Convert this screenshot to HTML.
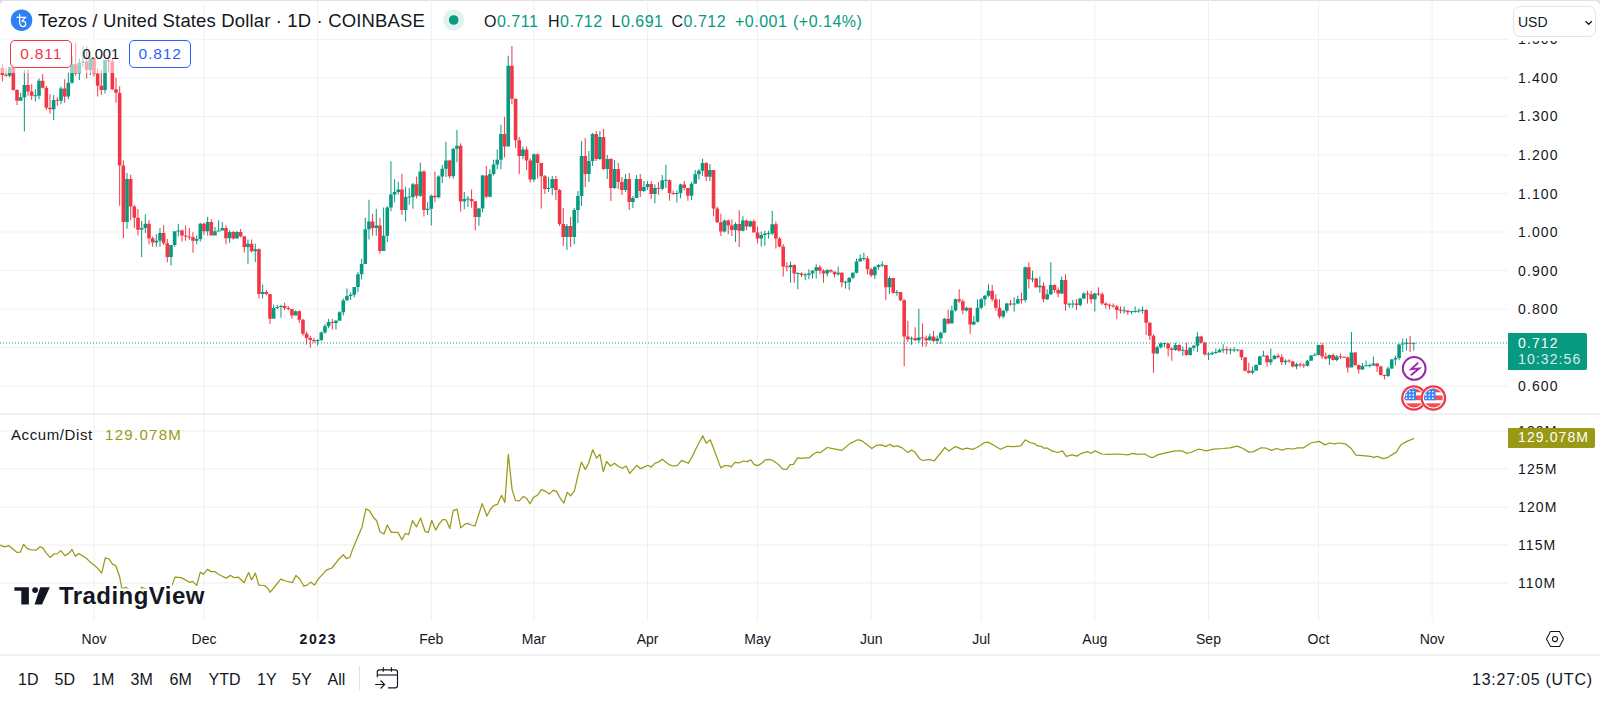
<!DOCTYPE html>
<html><head><meta charset="utf-8"><style>
*{margin:0;padding:0;box-sizing:border-box}
html,body{width:1600px;height:701px;overflow:hidden;background:#fff;font-family:"Liberation Sans",sans-serif;color:#131722}
.abs{position:absolute}
.pl{position:absolute;left:1518px;font-size:14px;line-height:18px;letter-spacing:1.1px;color:#131722;white-space:nowrap}
.tl{position:absolute;top:630px;width:80px;text-align:center;font-size:14px;line-height:18px;color:#131722}
.tl.b{font-weight:bold;letter-spacing:1.6px;text-indent:1.6px}
.hdr{left:38px;top:9.5px;font-size:18.5px;line-height:22px;letter-spacing:0.15px;white-space:nowrap}
.ohlc{top:12.5px;font-size:16px;line-height:18px;letter-spacing:0.5px;white-space:nowrap;color:#131722}
.g{color:#089981}
.btn{top:40px;width:61.5px;height:28px;border:1px solid;border-radius:5px;background:#fff;font-size:15.5px;line-height:26px;letter-spacing:0.9px;text-indent:0.9px;text-align:center}
.lgtxt{top:45.3px;font-size:14.8px;line-height:18px;letter-spacing:-0.1px;color:#131722}
.usd{left:1513px;top:6px;width:83px;height:31px;border:1px solid #e0e3eb;border-radius:7px;background:#fff;font-size:14px;line-height:31px;padding-left:4px;color:#131722}
.plabel{left:1508px;top:333px;width:78.5px;height:37px;background:#089981;border-radius:0 2px 2px 0;color:#fff;font-size:14px;line-height:16.5px;letter-spacing:1.1px;padding:1.5px 0 0 10px}
.adlabel{left:1508px;top:428px;width:87px;height:19.6px;background:#999915;border-radius:0 2px 2px 0;color:#fff;font-size:14px;line-height:19px;letter-spacing:1.1px;padding-left:10px}
.adleg{left:11px;top:425.5px;font-size:15px;line-height:18px;letter-spacing:0.6px;white-space:nowrap;color:#131722}
.tb{top:670px;font-size:16px;line-height:20px;color:#131722}
.utc{left:1472px;top:670px;font-size:16px;line-height:20px;letter-spacing:0.75px;color:#131722;white-space:nowrap}
.tvtext{position:absolute;left:59px;top:580px;font-size:24px;line-height:28px;font-weight:bold;color:#131722;white-space:nowrap;-webkit-text-stroke:0;text-shadow:0 0 2px #fff,0 0 2px #fff,0 0 3px #fff}
.topband{position:absolute;left:0;top:0;width:1600px;height:8px;background:#e1e2e9}
.frame{position:absolute;left:0;top:1.4px;width:1600px;height:700px;background:#fff;border-top-left-radius:5px;border-top-right-radius:5px}
</style></head><body>
<div class="topband"></div>
<div class="frame"></div>
<svg class="abs" style="left:0;top:0" width="1600" height="701" viewBox="0 0 1600 701">
<rect x="93.5" y="0" width="1" height="621" fill="#eff0f2"/><rect x="203.48000000000002" y="0" width="1" height="621" fill="#eff0f2"/><rect x="317.126" y="0" width="1" height="621" fill="#eff0f2"/><rect x="430.772" y="0" width="1" height="621" fill="#eff0f2"/><rect x="533.4200000000001" y="0" width="1" height="621" fill="#eff0f2"/><rect x="647.066" y="0" width="1" height="621" fill="#eff0f2"/><rect x="757.0459999999999" y="0" width="1" height="621" fill="#eff0f2"/><rect x="870.692" y="0" width="1" height="621" fill="#eff0f2"/><rect x="980.672" y="0" width="1" height="621" fill="#eff0f2"/><rect x="1094.318" y="0" width="1" height="621" fill="#eff0f2"/><rect x="1207.964" y="0" width="1" height="621" fill="#eff0f2"/><rect x="1317.944" y="0" width="1" height="621" fill="#eff0f2"/><rect x="1431.59" y="0" width="1" height="621" fill="#eff0f2"/><rect x="0" y="38.86999999999997" width="1508" height="1" fill="#eff0f2"/><rect x="0" y="77.4" width="1508" height="1" fill="#eff0f2"/><rect x="0" y="115.92999999999995" width="1508" height="1" fill="#eff0f2"/><rect x="0" y="154.45999999999998" width="1508" height="1" fill="#eff0f2"/><rect x="0" y="192.98999999999995" width="1508" height="1" fill="#eff0f2"/><rect x="0" y="231.51999999999998" width="1508" height="1" fill="#eff0f2"/><rect x="0" y="270.04999999999995" width="1508" height="1" fill="#eff0f2"/><rect x="0" y="308.5799999999999" width="1508" height="1" fill="#eff0f2"/><rect x="0" y="347.11" width="1508" height="1" fill="#eff0f2"/><rect x="0" y="385.64" width="1508" height="1" fill="#eff0f2"/><rect x="0" y="430.5" width="1508" height="1" fill="#eff0f2"/><rect x="0" y="468.5" width="1508" height="1" fill="#eff0f2"/><rect x="0" y="506.5" width="1508" height="1" fill="#eff0f2"/><rect x="0" y="544.5" width="1508" height="1" fill="#eff0f2"/><rect x="0" y="582.5" width="1508" height="1" fill="#eff0f2"/>
<rect x="0" y="413.5" width="1600" height="1" fill="#e0e3eb"/>
<rect x="0" y="654.5" width="1600" height="1" fill="#e0e3eb"/>
<g><path fill="#089981" d="M9.18 66.43h1v10.71h-1zM20.18 92.86h1v7.86h-1zM23.85 70.00h1v61.43h-1zM34.84 89.29h1v12.14h-1zM38.51 78.57h1v20.71h-1zM53.17 95.00h1v25.00h-1zM60.51 86.43h1v17.86h-1zM67.84 72.14h1v27.14h-1zM71.50 55.71h1v27.86h-1zM78.84 58.57h1v21.43h-1zM82.50 46.43h1v20.71h-1zM89.83 57.14h1v17.86h-1zM104.50 60.00h1v33.57h-1zM126.49 173.12h1v55.65h-1zM141.16 221.06h1v35.96h-1zM144.82 214.21h1v18.84h-1zM155.82 233.90h1v12.84h-1zM159.49 227.91h1v18.84h-1zM170.49 245.03h1v20.55h-1zM174.15 231.34h1v15.41h-1zM177.82 223.63h1v12.84h-1zM196.15 235.62h1v8.56h-1zM199.81 222.77h1v18.84h-1zM207.15 216.78h1v18.84h-1zM214.48 227.05h1v8.56h-1zM218.14 220.21h1v11.13h-1zM221.81 221.92h1v8.56h-1zM229.14 229.95h1v12.83h-1zM236.47 231.02h1v7.49h-1zM247.47 239.57h1v24.60h-1zM254.80 243.85h1v18.18h-1zM262.14 284.49h1v13.90h-1zM273.13 304.81h1v13.90h-1zM276.80 304.81h1v4.28h-1zM280.47 304.81h1v12.83h-1zM295.13 310.16h1v5.35h-1zM317.13 339.04h1v6.42h-1zM320.79 331.55h1v9.63h-1zM324.46 324.06h1v9.63h-1zM328.12 318.72h1v9.63h-1zM335.46 319.79h1v9.63h-1zM339.12 311.23h1v9.63h-1zM342.79 298.40h1v17.11h-1zM346.45 288.38h1v12.15h-1zM350.12 292.24h1v7.71h-1zM353.79 287.10h1v10.28h-1zM357.45 271.67h1v20.57h-1zM361.12 258.82h1v20.57h-1zM364.78 217.69h1v46.27h-1zM368.45 199.69h1v39.85h-1zM375.78 208.69h1v26.99h-1zM383.11 207.40h1v43.70h-1zM386.78 206.12h1v35.99h-1zM390.45 161.13h1v50.13h-1zM394.11 179.13h1v23.14h-1zM397.78 181.70h1v12.85h-1zM405.11 186.84h1v34.70h-1zM408.78 188.12h1v16.71h-1zM412.44 182.98h1v25.71h-1zM419.77 162.42h1v34.70h-1zM427.11 202.26h1v12.85h-1zM430.77 194.55h1v30.85h-1zM438.10 175.27h1v23.14h-1zM441.77 164.99h1v17.99h-1zM445.44 141.76h1v35.29h-1zM452.77 148.04h1v30.59h-1zM456.43 130.00h1v32.16h-1zM463.77 191.96h1v17.25h-1zM467.43 195.88h1v10.98h-1zM478.43 207.65h1v18.04h-1zM482.10 174.71h1v37.65h-1zM489.43 169.22h1v28.24h-1zM493.09 159.80h1v15.69h-1zM496.76 149.61h1v19.61h-1zM500.43 124.67h1v44.55h-1zM507.76 55.65h1v90.95h-1zM522.42 146.47h1v12.55h-1zM533.42 153.53h1v28.24h-1zM548.08 177.00h1v15.00h-1zM551.75 176.00h1v19.00h-1zM566.41 224.00h1v26.00h-1zM573.75 208.00h1v36.00h-1zM577.41 191.00h1v32.00h-1zM581.08 141.00h1v65.00h-1zM588.41 151.00h1v31.00h-1zM592.08 133.00h1v33.00h-1zM599.41 131.00h1v29.00h-1zM606.74 155.00h1v24.00h-1zM614.07 160.00h1v29.00h-1zM625.07 174.00h1v18.00h-1zM632.40 196.00h1v12.00h-1zM636.07 175.00h1v23.00h-1zM643.40 181.00h1v11.00h-1zM647.07 181.00h1v9.00h-1zM654.40 184.52h1v18.84h-1zM661.73 175.10h1v15.41h-1zM665.40 164.83h1v23.12h-1zM676.39 190.51h1v11.99h-1zM680.06 183.66h1v14.55h-1zM691.06 181.95h1v17.98h-1zM694.72 169.97h1v13.70h-1zM698.39 169.11h1v10.27h-1zM702.06 158.84h1v17.12h-1zM709.39 163.97h1v17.12h-1zM724.05 219.62h1v12.84h-1zM735.05 222.19h1v19.69h-1zM742.38 216.20h1v15.41h-1zM749.71 220.48h1v6.85h-1zM760.71 231.43h1v15.00h-1zM764.38 230.71h1v15.00h-1zM768.04 230.71h1v7.86h-1zM771.71 210.71h1v24.29h-1zM790.04 261.43h1v21.43h-1zM797.37 272.14h1v17.14h-1zM804.70 272.86h1v7.14h-1zM808.37 269.29h1v10.00h-1zM812.04 270.00h1v8.57h-1zM815.70 264.29h1v14.29h-1zM826.70 269.29h1v7.14h-1zM837.70 266.43h1v9.29h-1zM845.03 280.71h1v7.86h-1zM848.70 277.14h1v12.86h-1zM852.36 272.14h1v7.14h-1zM856.03 258.57h1v15.00h-1zM859.69 254.29h1v7.14h-1zM863.36 252.86h1v7.86h-1zM874.36 265.97h1v12.99h-1zM878.02 264.12h1v5.57h-1zM881.69 261.34h1v5.57h-1zM889.02 276.18h1v17.63h-1zM896.35 290.09h1v5.57h-1zM911.02 336.47h1v8.35h-1zM918.35 308.65h1v34.32h-1zM929.35 333.69h1v7.42h-1zM936.68 335.55h1v8.35h-1zM940.35 331.84h1v12.06h-1zM944.01 317.92h1v14.84h-1zM951.34 305.86h1v17.63h-1zM955.01 298.44h1v12.99h-1zM966.01 306.79h1v4.64h-1zM973.34 316.07h1v9.28h-1zM977.01 299.37h1v23.19h-1zM980.67 297.86h1v11.43h-1zM984.34 295.00h1v10.71h-1zM988.00 284.29h1v12.86h-1zM1002.67 310.00h1v8.57h-1zM1006.33 302.86h1v10.00h-1zM1013.67 297.14h1v14.29h-1zM1017.33 295.71h1v8.57h-1zM1024.66 266.43h1v35.71h-1zM1032.00 270.71h1v11.43h-1zM1039.33 276.43h1v16.43h-1zM1046.66 289.29h1v10.71h-1zM1050.33 262.14h1v32.86h-1zM1061.32 276.43h1v17.86h-1zM1068.66 302.86h1v5.00h-1zM1072.32 300.00h1v7.86h-1zM1079.65 297.86h1v8.57h-1zM1083.32 292.14h1v7.14h-1zM1094.32 292.86h1v18.57h-1zM1123.65 306.43h1v7.14h-1zM1130.98 310.71h1v3.57h-1zM1134.64 306.43h1v6.43h-1zM1138.31 308.57h1v4.29h-1zM1141.98 306.43h1v7.14h-1zM1156.64 345.71h1v8.57h-1zM1160.31 342.14h1v6.43h-1zM1163.97 342.86h1v4.29h-1zM1174.97 342.86h1v7.86h-1zM1182.30 346.43h1v9.29h-1zM1189.63 347.14h1v8.57h-1zM1193.30 345.00h1v5.71h-1zM1196.97 332.14h1v20.00h-1zM1207.96 352.14h1v7.86h-1zM1211.63 351.43h1v3.57h-1zM1215.30 348.57h1v5.71h-1zM1218.96 348.57h1v4.29h-1zM1222.63 344.29h1v8.57h-1zM1229.96 347.86h1v6.43h-1zM1233.63 347.14h1v5.00h-1zM1237.29 349.29h1v2.14h-1zM1251.96 366.43h1v7.86h-1zM1255.62 364.29h1v6.43h-1zM1259.29 355.71h1v9.29h-1zM1262.95 350.71h1v5.71h-1zM1270.29 348.57h1v16.43h-1zM1273.95 355.00h1v4.29h-1zM1284.95 359.29h1v5.71h-1zM1295.95 362.86h1v6.43h-1zM1306.95 360.00h1v6.43h-1zM1310.61 355.00h1v5.71h-1zM1314.28 353.00h1v2.50h-1zM1317.94 344.50h1v11.00h-1zM1328.94 354.50h1v10.50h-1zM1336.27 355.00h1v6.50h-1zM1350.94 332.00h1v35.50h-1zM1361.94 363.00h1v7.00h-1zM1365.60 360.50h1v6.00h-1zM1369.27 363.50h1v4.00h-1zM1372.93 356.50h1v9.50h-1zM1387.60 366.50h1v10.50h-1zM1391.26 359.00h1v10.00h-1zM1394.93 355.50h1v10.00h-1zM1398.60 343.50h1v16.50h-1zM1402.26 338.50h1v13.50h-1zM1405.93 338.50h1v12.00h-1zM1413.26 343.00h1v7.50h-1zM7.88 67.14h3.6v8.57h-3.6zM18.88 97.14h3.6v3.57h-3.6zM22.55 85.00h3.6v12.14h-3.6zM33.54 95.21h3.6v1.00h-3.6zM37.21 80.71h3.6v15.00h-3.6zM51.87 100.00h3.6v9.29h-3.6zM59.21 88.57h3.6v12.14h-3.6zM66.54 82.86h3.6v13.57h-3.6zM70.20 64.29h3.6v18.57h-3.6zM77.54 62.86h3.6v10.71h-3.6zM81.20 61.43h3.6v1.43h-3.6zM88.53 57.86h3.6v12.14h-3.6zM103.20 60.00h3.6v30.00h-3.6zM125.19 179.11h3.6v42.81h-3.6zM139.86 227.91h3.6v1.71h-3.6zM143.52 223.63h3.6v4.28h-3.6zM154.52 240.75h3.6v1.71h-3.6zM158.19 233.05h3.6v7.71h-3.6zM169.19 245.03h3.6v11.99h-3.6zM172.85 231.34h3.6v13.70h-3.6zM176.52 230.41h3.6v1.00h-3.6zM194.85 239.04h3.6v1.71h-3.6zM198.51 223.63h3.6v15.41h-3.6zM205.85 221.92h3.6v9.42h-3.6zM213.18 231.34h3.6v4.28h-3.6zM216.84 230.41h3.6v1.00h-3.6zM220.51 227.91h3.6v2.57h-3.6zM227.84 232.09h3.6v6.10h-3.6zM235.17 232.09h3.6v6.42h-3.6zM246.17 243.85h3.6v3.21h-3.6zM253.50 249.20h3.6v2.14h-3.6zM260.84 291.98h3.6v2.14h-3.6zM271.83 308.02h3.6v10.70h-3.6zM275.50 306.95h3.6v1.07h-3.6zM279.17 305.88h3.6v1.07h-3.6zM293.83 311.23h3.6v4.28h-3.6zM315.83 340.11h3.6v1.07h-3.6zM319.49 332.62h3.6v7.49h-3.6zM323.16 326.20h3.6v6.42h-3.6zM326.82 321.93h3.6v4.28h-3.6zM334.16 320.86h3.6v2.14h-3.6zM337.82 312.30h3.6v8.56h-3.6zM341.49 300.53h3.6v11.76h-3.6zM345.15 296.09h3.6v4.44h-3.6zM348.82 294.81h3.6v1.29h-3.6zM352.49 287.10h3.6v7.71h-3.6zM356.15 274.24h3.6v12.85h-3.6zM359.82 263.96h3.6v10.28h-3.6zM363.48 229.25h3.6v34.70h-3.6zM367.15 221.54h3.6v7.71h-3.6zM374.48 225.40h3.6v2.57h-3.6zM381.81 235.68h3.6v15.42h-3.6zM385.48 207.40h3.6v28.28h-3.6zM389.15 194.55h3.6v12.85h-3.6zM392.81 191.98h3.6v2.57h-3.6zM396.48 189.41h3.6v2.57h-3.6zM403.81 197.12h3.6v12.85h-3.6zM407.48 196.62h3.6v1.00h-3.6zM411.14 184.27h3.6v12.85h-3.6zM418.47 171.41h3.6v24.42h-3.6zM425.81 208.69h3.6v1.29h-3.6zM429.47 195.84h3.6v12.85h-3.6zM436.80 176.56h3.6v20.57h-3.6zM440.47 168.84h3.6v7.71h-3.6zM444.14 160.59h3.6v8.25h-3.6zM451.47 148.82h3.6v27.45h-3.6zM455.13 145.69h3.6v3.14h-3.6zM462.47 199.02h3.6v2.35h-3.6zM466.13 198.52h3.6v1.00h-3.6zM477.13 208.43h3.6v8.63h-3.6zM480.80 175.49h3.6v32.94h-3.6zM488.13 173.92h3.6v22.75h-3.6zM491.79 164.51h3.6v9.41h-3.6zM495.46 159.80h3.6v4.71h-3.6zM499.13 133.92h3.6v25.88h-3.6zM506.46 65.84h3.6v80.76h-3.6zM521.12 149.61h3.6v6.27h-3.6zM532.12 154.31h3.6v25.10h-3.6zM546.78 188.00h3.6v1.00h-3.6zM550.45 179.00h3.6v9.00h-3.6zM565.11 226.00h3.6v11.00h-3.6zM572.45 210.00h3.6v27.00h-3.6zM576.11 196.00h3.6v14.00h-3.6zM579.78 156.00h3.6v40.00h-3.6zM587.11 161.00h3.6v13.00h-3.6zM590.78 134.00h3.6v27.00h-3.6zM598.11 137.00h3.6v22.00h-3.6zM605.44 159.00h3.6v10.00h-3.6zM612.77 169.00h3.6v19.00h-3.6zM623.77 179.00h3.6v11.00h-3.6zM631.10 198.00h3.6v4.00h-3.6zM634.77 179.00h3.6v19.00h-3.6zM642.10 187.00h3.6v4.00h-3.6zM645.77 184.00h3.6v3.00h-3.6zM653.10 187.95h3.6v5.99h-3.6zM660.43 180.24h3.6v8.56h-3.6zM664.10 179.74h3.6v1.00h-3.6zM675.09 193.01h3.6v1.00h-3.6zM678.76 184.52h3.6v8.56h-3.6zM689.76 183.66h3.6v11.99h-3.6zM693.42 174.25h3.6v9.42h-3.6zM697.09 170.82h3.6v3.42h-3.6zM700.76 163.12h3.6v7.71h-3.6zM708.09 169.97h3.6v6.85h-3.6zM722.75 220.48h3.6v11.13h-3.6zM733.75 223.90h3.6v5.99h-3.6zM741.08 220.48h3.6v10.27h-3.6zM748.41 221.34h3.6v5.14h-3.6zM759.41 235.00h3.6v3.46h-3.6zM763.08 233.57h3.6v1.43h-3.6zM766.74 233.07h3.6v1.00h-3.6zM770.41 224.29h3.6v9.29h-3.6zM788.74 265.00h3.6v2.14h-3.6zM796.07 273.07h3.6v1.00h-3.6zM803.40 274.50h3.6v1.00h-3.6zM807.07 273.57h3.6v1.43h-3.6zM810.74 270.71h3.6v2.86h-3.6zM814.40 267.14h3.6v3.57h-3.6zM825.40 270.00h3.6v3.57h-3.6zM836.40 272.86h3.6v1.43h-3.6zM843.73 281.64h3.6v1.00h-3.6zM847.40 277.86h3.6v4.29h-3.6zM851.06 272.86h3.6v5.00h-3.6zM854.73 261.43h3.6v11.43h-3.6zM858.39 258.57h3.6v2.86h-3.6zM862.06 258.07h3.6v1.00h-3.6zM873.06 266.90h3.6v8.35h-3.6zM876.72 265.05h3.6v1.86h-3.6zM880.39 264.55h3.6v1.00h-3.6zM887.72 278.03h3.6v9.28h-3.6zM895.05 291.91h3.6v1.00h-3.6zM909.72 338.29h3.6v1.00h-3.6zM917.05 337.40h3.6v2.78h-3.6zM928.05 336.47h3.6v3.71h-3.6zM935.38 338.33h3.6v2.78h-3.6zM939.05 332.76h3.6v5.57h-3.6zM942.71 318.85h3.6v13.91h-3.6zM950.04 310.50h3.6v12.99h-3.6zM953.71 299.37h3.6v11.13h-3.6zM964.71 307.72h3.6v2.78h-3.6zM972.04 321.63h3.6v2.78h-3.6zM975.71 307.72h3.6v13.91h-3.6zM979.37 299.29h3.6v8.43h-3.6zM983.04 295.71h3.6v3.57h-3.6zM986.70 290.71h3.6v5.00h-3.6zM1001.37 310.71h3.6v5.71h-3.6zM1005.03 303.57h3.6v7.14h-3.6zM1012.37 303.43h3.6v1.00h-3.6zM1016.03 299.29h3.6v4.29h-3.6zM1023.36 267.14h3.6v32.86h-3.6zM1030.70 278.43h3.6v1.00h-3.6zM1038.03 285.71h3.6v1.43h-3.6zM1045.36 294.29h3.6v5.00h-3.6zM1049.03 285.00h3.6v9.29h-3.6zM1060.02 280.00h3.6v13.57h-3.6zM1067.36 303.79h3.6v1.00h-3.6zM1071.02 303.43h3.6v1.00h-3.6zM1078.35 298.57h3.6v6.43h-3.6zM1082.02 293.57h3.6v5.00h-3.6zM1093.02 293.57h3.6v5.71h-3.6zM1122.35 310.21h3.6v1.00h-3.6zM1129.68 311.29h3.6v1.00h-3.6zM1133.34 310.93h3.6v1.00h-3.6zM1137.01 310.57h3.6v1.00h-3.6zM1140.68 309.86h3.6v1.00h-3.6zM1155.34 347.14h3.6v6.43h-3.6zM1159.01 343.57h3.6v3.57h-3.6zM1162.67 343.07h3.6v1.00h-3.6zM1173.67 345.00h3.6v5.00h-3.6zM1181.00 349.86h3.6v1.00h-3.6zM1188.33 347.86h3.6v7.14h-3.6zM1192.00 345.71h3.6v2.14h-3.6zM1195.67 336.43h3.6v9.29h-3.6zM1206.66 353.79h3.6v1.00h-3.6zM1210.33 352.86h3.6v1.43h-3.6zM1214.00 352.00h3.6v1.00h-3.6zM1217.66 350.00h3.6v2.14h-3.6zM1221.33 349.14h3.6v1.00h-3.6zM1228.66 349.50h3.6v1.00h-3.6zM1232.33 349.50h3.6v1.00h-3.6zM1235.99 349.50h3.6v1.00h-3.6zM1250.66 370.71h3.6v2.14h-3.6zM1254.32 365.00h3.6v5.71h-3.6zM1257.99 356.43h3.6v8.57h-3.6zM1261.65 355.57h3.6v1.00h-3.6zM1268.99 359.29h3.6v2.86h-3.6zM1272.65 355.71h3.6v3.57h-3.6zM1283.65 360.71h3.6v1.43h-3.6zM1294.65 364.29h3.6v2.14h-3.6zM1305.65 360.71h3.6v5.00h-3.6zM1309.31 355.50h3.6v5.21h-3.6zM1312.98 354.75h3.6v1.00h-3.6zM1316.64 345.00h3.6v10.00h-3.6zM1327.64 355.00h3.6v3.50h-3.6zM1334.97 356.50h3.6v3.50h-3.6zM1349.64 352.50h3.6v15.00h-3.6zM1360.64 366.00h3.6v3.50h-3.6zM1364.30 365.25h3.6v1.00h-3.6zM1367.97 365.00h3.6v1.00h-3.6zM1371.63 363.50h3.6v2.00h-3.6zM1386.30 368.50h3.6v7.50h-3.6zM1389.96 359.50h3.6v9.00h-3.6zM1393.63 358.00h3.6v1.50h-3.6zM1397.30 344.50h3.6v13.50h-3.6zM1400.96 343.50h3.6v1.00h-3.6zM1404.63 342.75h3.6v1.00h-3.6zM1411.96 342.85h3.6v1.00h-3.6z"/><path fill="#f23645" d="M1.85 64.29h1v17.14h-1zM5.52 68.57h1v7.86h-1zM12.85 67.14h1v23.57h-1zM16.51 89.29h1v15.71h-1zM27.51 69.29h1v26.43h-1zM31.18 84.29h1v15.71h-1zM42.18 74.29h1v14.29h-1zM45.84 85.71h1v24.29h-1zM49.51 94.29h1v19.29h-1zM56.84 97.14h1v8.57h-1zM64.17 79.29h1v23.57h-1zM75.17 42.86h1v32.86h-1zM86.17 46.43h1v32.14h-1zM93.50 57.86h1v18.57h-1zM97.17 68.57h1v27.86h-1zM100.83 70.00h1v25.00h-1zM108.16 55.71h1v16.43h-1zM111.83 58.57h1v31.43h-1zM115.50 77.86h1v25.00h-1zM119.16 86.13h1v119.52h-1zM122.83 160.27h1v77.91h-1zM130.16 174.83h1v45.38h-1zM133.83 204.79h1v23.12h-1zM137.49 209.08h1v26.54h-1zM148.49 220.21h1v23.97h-1zM152.16 236.47h1v10.27h-1zM163.15 225.34h1v19.69h-1zM166.82 239.04h1v23.12h-1zM181.48 229.62h1v11.99h-1zM185.15 225.34h1v15.41h-1zM188.82 227.91h1v11.99h-1zM192.48 232.19h1v20.55h-1zM203.48 222.77h1v11.99h-1zM210.81 219.35h1v16.27h-1zM225.48 225.34h1v18.84h-1zM232.81 231.02h1v8.56h-1zM240.14 228.88h1v8.56h-1zM243.81 236.36h1v16.04h-1zM251.14 239.57h1v12.83h-1zM258.47 248.13h1v50.27h-1zM265.80 289.84h1v5.35h-1zM269.47 294.12h1v29.95h-1zM284.13 302.67h1v7.49h-1zM287.80 305.88h1v4.28h-1zM291.46 309.09h1v9.63h-1zM298.80 310.16h1v12.83h-1zM302.46 318.72h1v17.11h-1zM306.13 331.55h1v12.83h-1zM309.79 335.83h1v11.76h-1zM313.46 337.97h1v5.35h-1zM331.79 318.72h1v10.70h-1zM372.12 213.83h1v21.85h-1zM379.45 217.69h1v35.99h-1zM401.44 173.98h1v41.13h-1zM416.11 176.56h1v21.85h-1zM423.44 170.13h1v46.27h-1zM434.44 171.41h1v30.85h-1zM449.10 159.80h1v18.82h-1zM460.10 143.33h1v68.24h-1zM471.10 189.61h1v18.04h-1zM474.76 201.37h1v29.02h-1zM485.76 166.08h1v32.16h-1zM504.09 116.82h1v40.63h-1zM511.42 46.08h1v57.88h-1zM515.09 98.78h1v49.25h-1zM518.76 137.06h1v36.86h-1zM526.09 146.47h1v23.53h-1zM529.75 158.24h1v24.31h-1zM537.09 153.53h1v25.10h-1zM540.75 162.94h1v45.49h-1zM544.42 175.00h1v19.00h-1zM555.42 176.00h1v24.00h-1zM559.08 189.00h1v37.00h-1zM562.75 208.00h1v38.00h-1zM570.08 217.00h1v30.00h-1zM584.74 138.00h1v49.00h-1zM595.74 131.00h1v30.00h-1zM603.07 129.00h1v41.00h-1zM610.41 158.00h1v43.00h-1zM617.74 163.00h1v26.00h-1zM621.40 177.00h1v18.00h-1zM628.74 173.00h1v37.00h-1zM639.73 174.00h1v23.00h-1zM650.73 181.10h1v17.98h-1zM658.06 181.95h1v12.84h-1zM669.06 179.38h1v21.40h-1zM672.73 190.51h1v4.28h-1zM683.73 181.10h1v9.42h-1zM687.39 187.95h1v12.84h-1zM705.72 162.26h1v18.84h-1zM713.05 169.97h1v46.23h-1zM716.72 206.78h1v16.27h-1zM720.39 213.63h1v22.26h-1zM727.72 219.62h1v14.55h-1zM731.38 219.62h1v16.27h-1zM738.72 210.21h1v36.82h-1zM746.05 219.62h1v10.27h-1zM753.38 219.62h1v12.84h-1zM757.05 226.47h1v17.12h-1zM775.38 221.43h1v27.14h-1zM779.04 237.14h1v10.00h-1zM782.71 244.29h1v32.14h-1zM786.37 262.14h1v9.29h-1zM793.71 264.29h1v18.57h-1zM801.04 272.14h1v5.00h-1zM819.37 265.00h1v9.29h-1zM823.03 269.29h1v13.57h-1zM830.37 269.29h1v3.57h-1zM834.03 271.43h1v5.71h-1zM841.36 272.14h1v15.00h-1zM867.03 256.43h1v17.86h-1zM870.69 267.83h1v9.28h-1zM885.36 265.05h1v35.25h-1zM892.69 278.03h1v15.77h-1zM900.02 291.95h1v9.28h-1zM903.69 299.37h1v66.79h-1zM907.35 320.71h1v21.34h-1zM914.68 327.20h1v13.91h-1zM922.02 323.49h1v23.19h-1zM925.68 335.55h1v11.13h-1zM933.01 330.91h1v11.13h-1zM947.68 309.57h1v14.84h-1zM958.68 289.17h1v13.91h-1zM962.34 299.37h1v14.84h-1zM969.67 307.72h1v25.97h-1zM991.67 285.00h1v16.43h-1zM995.34 294.29h1v16.43h-1zM999.00 299.29h1v19.29h-1zM1010.00 300.00h1v5.71h-1zM1021.00 292.86h1v10.71h-1zM1028.33 262.14h1v26.43h-1zM1035.66 277.86h1v10.00h-1zM1042.99 282.14h1v20.00h-1zM1053.99 284.29h1v8.57h-1zM1057.66 287.14h1v10.00h-1zM1064.99 274.29h1v36.43h-1zM1075.99 299.29h1v10.71h-1zM1086.99 290.71h1v12.86h-1zM1090.65 290.71h1v12.86h-1zM1097.98 287.14h1v8.57h-1zM1101.65 292.14h1v12.86h-1zM1105.32 302.14h1v6.43h-1zM1108.98 303.57h1v5.71h-1zM1112.65 303.57h1v4.29h-1zM1116.31 305.00h1v14.29h-1zM1119.98 306.43h1v7.14h-1zM1127.31 310.00h1v5.00h-1zM1145.64 309.29h1v25.71h-1zM1149.31 322.14h1v17.86h-1zM1152.97 334.29h1v38.57h-1zM1167.64 342.86h1v13.57h-1zM1171.30 347.14h1v13.57h-1zM1178.64 344.29h1v7.14h-1zM1185.97 342.86h1v12.86h-1zM1200.63 335.71h1v7.86h-1zM1204.30 341.43h1v14.29h-1zM1226.29 346.43h1v7.86h-1zM1240.96 349.29h1v10.71h-1zM1244.62 357.14h1v14.29h-1zM1248.29 362.86h1v10.71h-1zM1266.62 355.00h1v11.43h-1zM1277.62 353.57h1v5.00h-1zM1281.28 354.29h1v10.71h-1zM1288.62 359.29h1v3.57h-1zM1292.28 360.71h1v6.43h-1zM1299.61 362.86h1v4.29h-1zM1303.28 363.57h1v4.29h-1zM1321.61 343.00h1v16.00h-1zM1325.28 352.50h1v7.00h-1zM1332.61 353.50h1v7.00h-1zM1339.94 353.50h1v5.50h-1zM1343.61 356.50h1v1.50h-1zM1347.27 356.50h1v16.00h-1zM1354.60 352.00h1v14.00h-1zM1358.27 364.50h1v9.00h-1zM1376.60 363.00h1v9.00h-1zM1380.27 365.50h1v10.00h-1zM1383.93 374.50h1v5.00h-1zM1409.59 336.00h1v16.00h-1zM0.55 68.00h3.6v7.00h-3.6zM4.22 74.86h3.6v1.00h-3.6zM11.55 67.14h3.6v22.86h-3.6zM15.21 90.00h3.6v10.71h-3.6zM26.21 85.00h3.6v6.43h-3.6zM29.88 91.43h3.6v4.29h-3.6zM40.88 80.71h3.6v7.14h-3.6zM44.54 87.86h3.6v20.00h-3.6zM48.21 107.86h3.6v1.43h-3.6zM55.54 99.86h3.6v1.00h-3.6zM62.87 88.57h3.6v7.86h-3.6zM73.87 64.29h3.6v9.29h-3.6zM84.87 61.43h3.6v8.57h-3.6zM92.20 57.86h3.6v15.71h-3.6zM95.87 73.57h3.6v12.14h-3.6zM99.53 85.71h3.6v4.29h-3.6zM106.86 60.00h3.6v1.43h-3.6zM110.53 61.43h3.6v27.86h-3.6zM114.20 89.29h3.6v3.57h-3.6zM117.86 93.00h3.6v72.41h-3.6zM121.53 165.41h3.6v56.51h-3.6zM128.86 179.11h3.6v27.40h-3.6zM132.53 206.51h3.6v11.13h-3.6zM136.19 217.64h3.6v11.99h-3.6zM147.19 223.63h3.6v14.55h-3.6zM150.86 238.18h3.6v4.28h-3.6zM161.85 233.05h3.6v10.27h-3.6zM165.52 243.32h3.6v13.70h-3.6zM180.18 230.48h3.6v5.14h-3.6zM183.85 235.54h3.6v1.00h-3.6zM187.52 236.40h3.6v1.00h-3.6zM191.18 237.33h3.6v3.42h-3.6zM202.18 223.63h3.6v7.71h-3.6zM209.51 221.92h3.6v13.70h-3.6zM224.18 227.91h3.6v10.27h-3.6zM231.51 232.09h3.6v6.42h-3.6zM238.84 232.09h3.6v4.28h-3.6zM242.51 236.36h3.6v10.70h-3.6zM249.84 243.85h3.6v7.49h-3.6zM257.17 249.20h3.6v44.92h-3.6zM264.50 291.98h3.6v2.14h-3.6zM268.17 294.12h3.6v24.60h-3.6zM282.83 305.88h3.6v2.14h-3.6zM286.50 308.02h3.6v1.07h-3.6zM290.16 309.09h3.6v6.42h-3.6zM297.50 311.23h3.6v8.56h-3.6zM301.16 319.79h3.6v13.90h-3.6zM304.83 333.69h3.6v4.28h-3.6zM308.49 337.97h3.6v2.14h-3.6zM312.16 340.11h3.6v1.07h-3.6zM330.49 321.93h3.6v1.07h-3.6zM370.82 221.54h3.6v6.43h-3.6zM378.15 225.40h3.6v25.71h-3.6zM400.14 189.41h3.6v20.57h-3.6zM414.81 184.27h3.6v11.57h-3.6zM422.14 171.41h3.6v38.56h-3.6zM433.14 195.84h3.6v1.29h-3.6zM447.80 160.59h3.6v15.69h-3.6zM458.80 145.69h3.6v55.69h-3.6zM469.80 199.02h3.6v2.35h-3.6zM473.46 201.37h3.6v15.69h-3.6zM484.46 175.49h3.6v21.18h-3.6zM502.79 133.92h3.6v12.55h-3.6zM510.12 65.84h3.6v32.94h-3.6zM513.79 98.78h3.6v41.57h-3.6zM517.46 140.35h3.6v15.53h-3.6zM524.79 149.61h3.6v10.98h-3.6zM528.45 160.59h3.6v18.82h-3.6zM535.79 154.31h3.6v8.63h-3.6zM539.45 162.94h3.6v13.33h-3.6zM543.12 176.27h3.6v12.73h-3.6zM554.12 179.00h3.6v11.00h-3.6zM557.78 190.00h3.6v34.00h-3.6zM561.45 224.00h3.6v13.00h-3.6zM568.78 226.00h3.6v11.00h-3.6zM583.44 156.00h3.6v18.00h-3.6zM594.44 134.00h3.6v25.00h-3.6zM601.77 137.00h3.6v32.00h-3.6zM609.11 159.00h3.6v29.00h-3.6zM616.44 169.00h3.6v13.00h-3.6zM620.10 182.00h3.6v8.00h-3.6zM627.44 179.00h3.6v23.00h-3.6zM638.43 179.00h3.6v12.00h-3.6zM649.43 184.00h3.6v9.94h-3.6zM656.76 187.87h3.6v1.00h-3.6zM667.76 180.24h3.6v12.84h-3.6zM671.43 193.01h3.6v1.00h-3.6zM682.43 184.52h3.6v3.42h-3.6zM686.09 187.95h3.6v7.71h-3.6zM704.42 163.12h3.6v13.70h-3.6zM711.75 169.97h3.6v38.53h-3.6zM715.42 208.49h3.6v13.70h-3.6zM719.09 222.19h3.6v9.42h-3.6zM726.42 220.48h3.6v5.14h-3.6zM730.08 225.62h3.6v4.28h-3.6zM737.42 223.90h3.6v6.85h-3.6zM744.75 220.48h3.6v5.99h-3.6zM752.08 221.34h3.6v11.13h-3.6zM755.75 232.47h3.6v5.99h-3.6zM774.08 224.29h3.6v14.29h-3.6zM777.74 238.57h3.6v7.86h-3.6zM781.41 246.43h3.6v20.00h-3.6zM785.07 266.29h3.6v1.00h-3.6zM792.41 265.00h3.6v8.57h-3.6zM799.74 273.57h3.6v1.43h-3.6zM818.07 267.14h3.6v3.57h-3.6zM821.73 270.71h3.6v2.86h-3.6zM829.07 270.00h3.6v1.43h-3.6zM832.73 271.43h3.6v2.86h-3.6zM840.06 272.86h3.6v9.29h-3.6zM865.73 258.57h3.6v10.71h-3.6zM869.39 269.29h3.6v5.96h-3.6zM884.06 265.05h3.6v22.26h-3.6zM891.39 278.03h3.6v14.84h-3.6zM898.72 291.95h3.6v8.35h-3.6zM902.39 300.30h3.6v36.18h-3.6zM906.05 336.47h3.6v2.78h-3.6zM913.38 338.33h3.6v1.86h-3.6zM920.72 337.37h3.6v1.00h-3.6zM924.38 338.33h3.6v1.86h-3.6zM931.71 336.47h3.6v4.64h-3.6zM946.38 318.85h3.6v4.64h-3.6zM957.38 299.37h3.6v1.86h-3.6zM961.04 301.22h3.6v9.28h-3.6zM968.37 307.72h3.6v16.70h-3.6zM990.37 290.71h3.6v8.57h-3.6zM994.04 299.29h3.6v8.57h-3.6zM997.70 307.86h3.6v8.57h-3.6zM1008.70 303.43h3.6v1.00h-3.6zM1019.70 299.14h3.6v1.00h-3.6zM1027.03 267.14h3.6v12.14h-3.6zM1034.36 278.57h3.6v8.57h-3.6zM1041.69 285.71h3.6v13.57h-3.6zM1052.69 285.00h3.6v5.00h-3.6zM1056.36 290.00h3.6v3.57h-3.6zM1063.69 280.00h3.6v24.29h-3.6zM1074.69 303.57h3.6v1.43h-3.6zM1085.69 293.43h3.6v1.00h-3.6zM1089.35 294.29h3.6v5.00h-3.6zM1096.68 293.43h3.6v1.00h-3.6zM1100.35 294.29h3.6v9.29h-3.6zM1104.02 303.57h3.6v1.43h-3.6zM1107.68 304.86h3.6v1.00h-3.6zM1111.35 305.57h3.6v1.00h-3.6zM1115.01 306.43h3.6v3.57h-3.6zM1118.68 309.86h3.6v1.00h-3.6zM1126.01 310.71h3.6v1.43h-3.6zM1144.34 310.00h3.6v12.86h-3.6zM1148.01 322.86h3.6v12.86h-3.6zM1151.67 335.71h3.6v17.86h-3.6zM1166.34 343.57h3.6v5.00h-3.6zM1170.00 348.57h3.6v1.43h-3.6zM1177.34 345.00h3.6v5.71h-3.6zM1184.67 350.00h3.6v5.00h-3.6zM1199.33 336.43h3.6v6.43h-3.6zM1203.00 342.86h3.6v11.43h-3.6zM1224.99 349.14h3.6v1.00h-3.6zM1239.66 350.00h3.6v7.14h-3.6zM1243.32 357.14h3.6v13.57h-3.6zM1246.99 370.71h3.6v2.14h-3.6zM1265.32 355.71h3.6v6.43h-3.6zM1276.32 355.71h3.6v1.43h-3.6zM1279.98 357.14h3.6v5.00h-3.6zM1287.32 360.57h3.6v1.00h-3.6zM1290.98 361.43h3.6v5.00h-3.6zM1298.31 364.14h3.6v1.00h-3.6zM1301.98 364.86h3.6v1.00h-3.6zM1320.31 345.00h3.6v11.50h-3.6zM1323.98 356.50h3.6v2.00h-3.6zM1331.31 355.00h3.6v5.00h-3.6zM1338.64 356.25h3.6v1.00h-3.6zM1342.31 356.75h3.6v1.00h-3.6zM1345.97 357.50h3.6v10.00h-3.6zM1353.30 352.50h3.6v12.50h-3.6zM1356.97 365.00h3.6v4.50h-3.6zM1375.30 363.50h3.6v3.00h-3.6zM1378.97 366.50h3.6v8.50h-3.6zM1382.63 375.00h3.6v1.00h-3.6zM1408.29 342.75h3.6v1.00h-3.6z"/></g>
<line x1="0" y1="343" x2="1508" y2="343" stroke="#089981" stroke-width="1" stroke-dasharray="1 2"/>
<rect x="0" y="38" width="196" height="35" fill="#fff" fill-opacity="0.55"/>
<path d="M0.0 545.0 L4.5 546.8 L9.0 545.7 L13.5 549.5 L16.9 552.4 L20.3 552.2 L23.6 544.3 L27.0 548.4 L31.5 550.0 L36.0 550.2 L40.0 546.8 L42.8 547.9 L46.1 552.9 L50.0 557.4 L54.0 554.0 L57.4 553.6 L60.8 550.6 L64.8 555.6 L68.6 553.6 L72.0 549.5 L75.4 556.3 L78.8 553.6 L83.3 556.3 L86.6 558.5 L90.0 561.9 L94.5 565.3 L97.9 568.6 L101.7 573.1 L105.3 557.8 L109.1 559.0 L112.5 564.1 L115.9 565.7 L119.7 577.0 L121.8 588.7 L126.5 587.4 L130.8 591.7 L137.7 597.7 L141.5 587.4 L153.9 591.3 L170.2 590.4 L174.9 577.1 L181.3 577.6 L189.5 582.3 L192.5 581.4 L196.7 585.3 L200.2 572.4 L203.6 574.1 L207.4 569.4 L211.3 571.6 L214.9 571.6 L218.3 574.3 L222.8 576.5 L226.1 578.1 L230.6 575.4 L234.0 577.6 L238.5 577.2 L244.1 582.8 L248.6 572.5 L251.6 579.9 L255.4 573.1 L258.8 585.1 L264.4 585.5 L267.8 588.2 L270.0 592.3 L275.6 585.5 L280.8 579.2 L285.8 581.0 L292.5 582.6 L295.9 575.4 L300.0 579.2 L303.8 586.2 L307.2 585.1 L310.5 582.1 L314.4 585.1 L318.4 578.8 L326.3 570.2 L331.9 568.0 L337.5 560.8 L343.2 554.7 L346.5 558.5 L349.9 557.4 L352.4 549.9 L356.9 539.1 L362.0 527.2 L365.9 508.8 L369.3 510.6 L373.8 517.8 L376.7 520.7 L380.0 531.7 L383.9 534.0 L387.3 525.0 L391.3 532.4 L398.0 532.4 L401.9 539.8 L405.3 533.5 L408.6 534.6 L412.5 520.7 L416.5 526.8 L420.6 518.2 L425.0 531.3 L428.2 532.6 L431.8 520.5 L435.6 530.1 L439.5 523.4 L443.0 519.3 L446.2 520.0 L449.8 528.6 L453.2 510.6 L457.0 509.2 L460.8 527.9 L464.9 524.1 L467.8 523.4 L471.2 525.0 L475.0 526.1 L482.2 503.6 L486.9 516.0 L490.8 508.8 L494.1 505.4 L497.5 504.3 L501.6 495.3 L504.9 502.5 L508.3 454.3 L512.1 489.6 L515.5 500.4 L519.3 500.9 L523.4 496.4 L526.8 498.6 L530.1 503.8 L533.5 497.5 L537.3 495.3 L541.4 489.6 L545.2 491.2 L549.3 494.1 L553.3 490.1 L556.5 491.4 L560.5 498.6 L563.9 503.1 L567.3 492.3 L570.6 495.9 L574.5 490.8 L577.4 477.7 L581.4 462.2 L585.3 469.4 L588.6 463.3 L592.7 449.8 L596.5 458.1 L599.9 454.3 L603.3 471.6 L606.6 461.5 L610.5 466.0 L614.5 463.3 L618.6 466.5 L622.4 468.3 L626.2 466.0 L629.8 473.4 L633.2 469.4 L636.6 465.3 L640.4 468.7 L644.2 467.1 L647.8 465.3 L651.2 467.1 L655.0 463.1 L658.4 462.2 L662.2 459.3 L666.3 462.6 L669.6 464.9 L673.5 466.0 L677.5 465.3 L681.6 460.4 L688.3 463.3 L692.2 456.6 L696.8 447.0 L702.8 435.8 L706.2 443.2 L710.3 439.8 L720.8 467.9 L724.9 465.5 L728.3 465.7 L731.2 466.8 L735.0 462.3 L739.5 462.8 L743.6 461.0 L747.4 461.6 L750.8 459.8 L754.1 464.3 L757.5 465.7 L761.6 463.4 L765.4 459.8 L768.8 459.4 L772.8 460.5 L777.8 463.9 L782.9 469.1 L786.8 469.5 L790.1 464.6 L793.5 464.3 L797.6 457.8 L801.4 458.3 L804.8 457.8 L809.3 457.8 L813.3 454.2 L816.7 452.2 L820.5 452.6 L827.3 447.5 L834.0 448.8 L841.9 450.4 L849.8 443.6 L857.6 439.8 L861.0 440.3 L866.6 444.3 L871.8 448.6 L876.3 445.4 L881.3 444.8 L885.8 446.6 L889.8 444.3 L893.6 446.6 L897.5 445.9 L902.6 448.1 L907.8 452.6 L911.6 449.9 L915.0 452.2 L919.5 458.7 L922.9 460.5 L929.0 459.4 L934.1 461.0 L939.8 453.8 L945.0 447.5 L948.8 451.1 L955.5 446.6 L962.3 449.3 L966.8 448.1 L972.4 449.3 L976.9 447.5 L984.8 442.5 L988.1 442.1 L993.8 445.2 L1000.5 449.3 L1007.3 446.3 L1014.0 446.6 L1020.8 445.9 L1025.3 439.8 L1029.8 442.5 L1034.3 443.6 L1037.7 445.9 L1041.0 446.3 L1043.6 448.0 L1047.1 448.0 L1051.9 450.9 L1057.8 452.5 L1062.6 450.9 L1066.1 456.3 L1072.1 454.9 L1076.8 456.1 L1081.6 453.3 L1087.5 451.6 L1091.1 453.3 L1095.1 450.9 L1101.8 454.0 L1108.9 454.4 L1118.4 454.0 L1127.9 454.9 L1132.6 453.3 L1137.4 454.4 L1144.5 454.0 L1150.5 457.3 L1153.5 457.3 L1157.6 454.9 L1163.5 453.3 L1169.5 452.1 L1175.4 450.9 L1182.5 450.9 L1186.1 453.3 L1190.8 452.5 L1198.7 449.0 L1206.3 450.9 L1213.4 449.2 L1222.9 448.5 L1230.0 447.8 L1237.1 446.1 L1243.1 448.5 L1249.0 452.1 L1253.8 451.6 L1260.9 447.8 L1265.7 448.0 L1271.6 450.4 L1276.3 448.5 L1282.3 450.2 L1287.0 448.5 L1293.0 449.0 L1297.7 447.8 L1303.7 447.8 L1310.8 443.0 L1319.1 441.4 L1325.0 444.9 L1329.8 443.0 L1334.5 443.8 L1339.3 443.0 L1345.2 443.8 L1351.2 448.5 L1355.9 455.2 L1363.0 455.6 L1370.2 456.3 L1373.7 457.3 L1377.3 456.3 L1383.2 458.7 L1388.0 457.3 L1396.3 452.1 L1401.1 444.5 L1407.0 441.4 L1414.1 438.5" fill="none" stroke="#999915" stroke-width="1.25" stroke-linejoin="round"/>
<!-- TradingView logo -->
<g fill="#131722">
<path d="M14.4 587.2H28.9V604.4H21.3V590.8H14.4Z"/>
<circle cx="35.1" cy="590.1" r="2.9"/>
<path d="M40.2 587.2H49.8L42 604.4H34.6Z"/>
</g>
<g fill="#131722" stroke="#fff" stroke-width="5" paint-order="stroke" stroke-linejoin="round">
<text x="59" y="604.4" font-family="Liberation Sans" font-weight="bold" font-size="24" letter-spacing="0.45" stroke-width="5">TradingView</text>
</g>
<!-- events -->
<circle cx="1414.2" cy="368.4" r="11.4" fill="#fff" stroke="#9c27b0" stroke-width="2"/>
<path d="M1418.2 362.6L1411.2 369.2L1419.2 368.4L1410.8 375.2" fill="none" stroke="#9c27b0" stroke-width="1.9" stroke-linejoin="miter"/>
<circle cx="1413.9" cy="398.0" r="12.8" fill="#fff"/><circle cx="1413.9" cy="398.0" r="11.7" fill="none" stroke="#f23645" stroke-width="2.2"/>
<clipPath id="f1"><circle cx="1413.9" cy="398.0" r="9.4"/></clipPath>
<g clip-path="url(#f1)"><rect x="1403.9" y="388.0" width="20" height="20" fill="#fff"/><rect x="1403.9" y="388.0" width="20" height="4.3" fill="#f05252"/><rect x="1403.9" y="395.4" width="20" height="4.8" fill="#f05252"/><rect x="1403.9" y="403.3" width="20" height="5" fill="#f05252"/><rect x="1403.9" y="388.0" width="12.1" height="12.2" fill="#3b86f6"/><circle cx="1406.5" cy="391.6" r="0.85" fill="#fff"/><circle cx="1406.5" cy="394.9" r="0.85" fill="#fff"/><circle cx="1406.5" cy="398.2" r="0.85" fill="#fff"/><circle cx="1409.9" cy="391.6" r="0.85" fill="#fff"/><circle cx="1409.9" cy="394.9" r="0.85" fill="#fff"/><circle cx="1409.9" cy="398.2" r="0.85" fill="#fff"/><circle cx="1413.3" cy="391.6" r="0.85" fill="#fff"/><circle cx="1413.3" cy="394.9" r="0.85" fill="#fff"/><circle cx="1413.3" cy="398.2" r="0.85" fill="#fff"/></g>
<circle cx="1433.4" cy="398.0" r="12.8" fill="#fff"/><circle cx="1433.4" cy="398.0" r="11.7" fill="none" stroke="#f23645" stroke-width="2.2"/>
<clipPath id="f2"><circle cx="1433.4" cy="398.0" r="9.4"/></clipPath>
<g clip-path="url(#f2)"><rect x="1423.4" y="388.0" width="20" height="20" fill="#fff"/><rect x="1423.4" y="388.0" width="20" height="4.3" fill="#f05252"/><rect x="1423.4" y="395.4" width="20" height="4.8" fill="#f05252"/><rect x="1423.4" y="403.3" width="20" height="5" fill="#f05252"/><rect x="1423.4" y="388.0" width="12.1" height="12.2" fill="#3b86f6"/><circle cx="1426.0" cy="391.6" r="0.85" fill="#fff"/><circle cx="1426.0" cy="394.9" r="0.85" fill="#fff"/><circle cx="1426.0" cy="398.2" r="0.85" fill="#fff"/><circle cx="1429.4" cy="391.6" r="0.85" fill="#fff"/><circle cx="1429.4" cy="394.9" r="0.85" fill="#fff"/><circle cx="1429.4" cy="398.2" r="0.85" fill="#fff"/><circle cx="1432.8" cy="391.6" r="0.85" fill="#fff"/><circle cx="1432.8" cy="394.9" r="0.85" fill="#fff"/><circle cx="1432.8" cy="398.2" r="0.85" fill="#fff"/></g>
<!-- tezos icon -->
<circle cx="21.55" cy="20.2" r="10.75" fill="#2f80f5"/>
<g fill="none" stroke="#fff" stroke-width="1.25" stroke-linecap="round" stroke-linejoin="round"><path d="M16.9 17.3H25.8"/><path d="M19.6 14.3V21.8Q19.6 24.2 20.6 25.2"/><path d="M25.4 17.4L21.9 21.1Q25.7 20.9 25.7 23.7Q25.7 26.6 22.9 26.6Q21 26.6 20.5 25.3"/></g>
<!-- green dot -->
<circle cx="453.7" cy="20" r="10.5" fill="#089981" fill-opacity="0.13"/>
<circle cx="453.7" cy="20" r="4.8" fill="#089981"/>
<!-- separator in toolbar -->
<rect x="359" y="666" width="1" height="25" fill="#e0e3eb"/>
<!-- calendar icon -->
<g fill="none" stroke="#131722" stroke-width="1.15">
<path d="M377.3 677.3V672Q377.3 669.8 379.5 669.8H395.3Q397.5 669.8 397.5 672V685.5Q397.5 687.8 395.3 687.8H388"/>
<path d="M377.3 675H397.5"/>
<path d="M383.3 667.2V671.8M391.4 667.2V671.8"/>
<path d="M375.2 684.5H384.6M380.6 680.5L384.6 684.5L380.6 688.5"/>
</g>
<!-- settings hexagon -->
<g fill="none" stroke="#131722" stroke-width="1.05">
<path d="M1550.5 631.5H1559.5L1563.5 639L1559.5 646.5H1550.5L1546.5 639Z" stroke-linejoin="round"/>
<circle cx="1555" cy="639" r="2.6"/>
</g>
</svg>
<div class="pl" style="top:30.4px">1.500</div><div class="pl" style="top:68.9px">1.400</div><div class="pl" style="top:107.4px">1.300</div><div class="pl" style="top:146.0px">1.200</div><div class="pl" style="top:184.5px">1.100</div><div class="pl" style="top:223.0px">1.000</div><div class="pl" style="top:261.5px">0.900</div><div class="pl" style="top:300.1px">0.800</div><div class="pl" style="top:377.1px">0.600</div><div class="pl" style="top:422.0px">130M</div><div class="pl" style="top:460.0px">125M</div><div class="pl" style="top:498.0px">120M</div><div class="pl" style="top:536.0px">115M</div><div class="pl" style="top:574.0px">110M</div>
<div class="tl" style="left:54.0px">Nov</div><div class="tl" style="left:164.0px">Dec</div><div class="tl b" style="left:277.6px">2023</div><div class="tl" style="left:391.3px">Feb</div><div class="tl" style="left:493.9px">Mar</div><div class="tl" style="left:607.6px">Apr</div><div class="tl" style="left:717.5px">May</div><div class="tl" style="left:831.2px">Jun</div><div class="tl" style="left:941.2px">Jul</div><div class="tl" style="left:1054.8px">Aug</div><div class="tl" style="left:1168.5px">Sep</div><div class="tl" style="left:1278.4px">Oct</div><div class="tl" style="left:1392.1px">Nov</div>

<div class="abs hdr">Tezos / United States Dollar · 1D · COINBASE</div>
<div class="abs ohlc" style="left:484px">O<span class="g">0.711</span></div>
<div class="abs ohlc" style="left:548px">H<span class="g">0.712</span></div>
<div class="abs ohlc" style="left:611.5px">L<span class="g">0.691</span></div>
<div class="abs ohlc" style="left:671.5px">C<span class="g">0.712</span></div>
<div class="abs ohlc g" style="left:735px">+0.001</div>
<div class="abs ohlc g" style="left:793px">(+0.14%)</div>
<div class="abs btn" style="left:10px;border-color:#f23645;color:#f23645">0.811</div>
<div class="abs lgtxt" style="left:82.5px">0.001</div>
<div class="abs btn" style="left:129px;border-color:#2962ff;color:#2962ff">0.812</div>
<div class="abs" style="left:1508px;top:36px;width:92px;height:5px;background:#fff"></div><div class="abs usd">USD<svg class="abs" style="left:70px;top:13px" width="10" height="6" viewBox="0 0 10 6"><path d="M1.6 1.3L4.7 4.3L7.8 1.3" fill="none" stroke="#131722" stroke-width="1.3"/></svg></div>
<div class="abs plabel"><div>0.712</div><div style="color:rgba(255,255,255,0.85)">10:32:56</div></div>
<div class="abs adlabel">129.078M</div>
<div class="abs adleg">Accum/Dist<span style="color:#999915;position:absolute;left:94px;letter-spacing:1.3px">129.078M</span></div>
<div class="abs tb" style="left:18px">1D</div>
<div class="abs tb" style="left:54.5px">5D</div>
<div class="abs tb" style="left:92px">1M</div>
<div class="abs tb" style="left:130.5px">3M</div>
<div class="abs tb" style="left:169.5px">6M</div>
<div class="abs tb" style="left:208.5px">YTD</div>
<div class="abs tb" style="left:257px">1Y</div>
<div class="abs tb" style="left:292px">5Y</div>
<div class="abs tb" style="left:327.5px">All</div>
<div class="abs utc">13:27:05 (UTC)</div>
</body></html>
